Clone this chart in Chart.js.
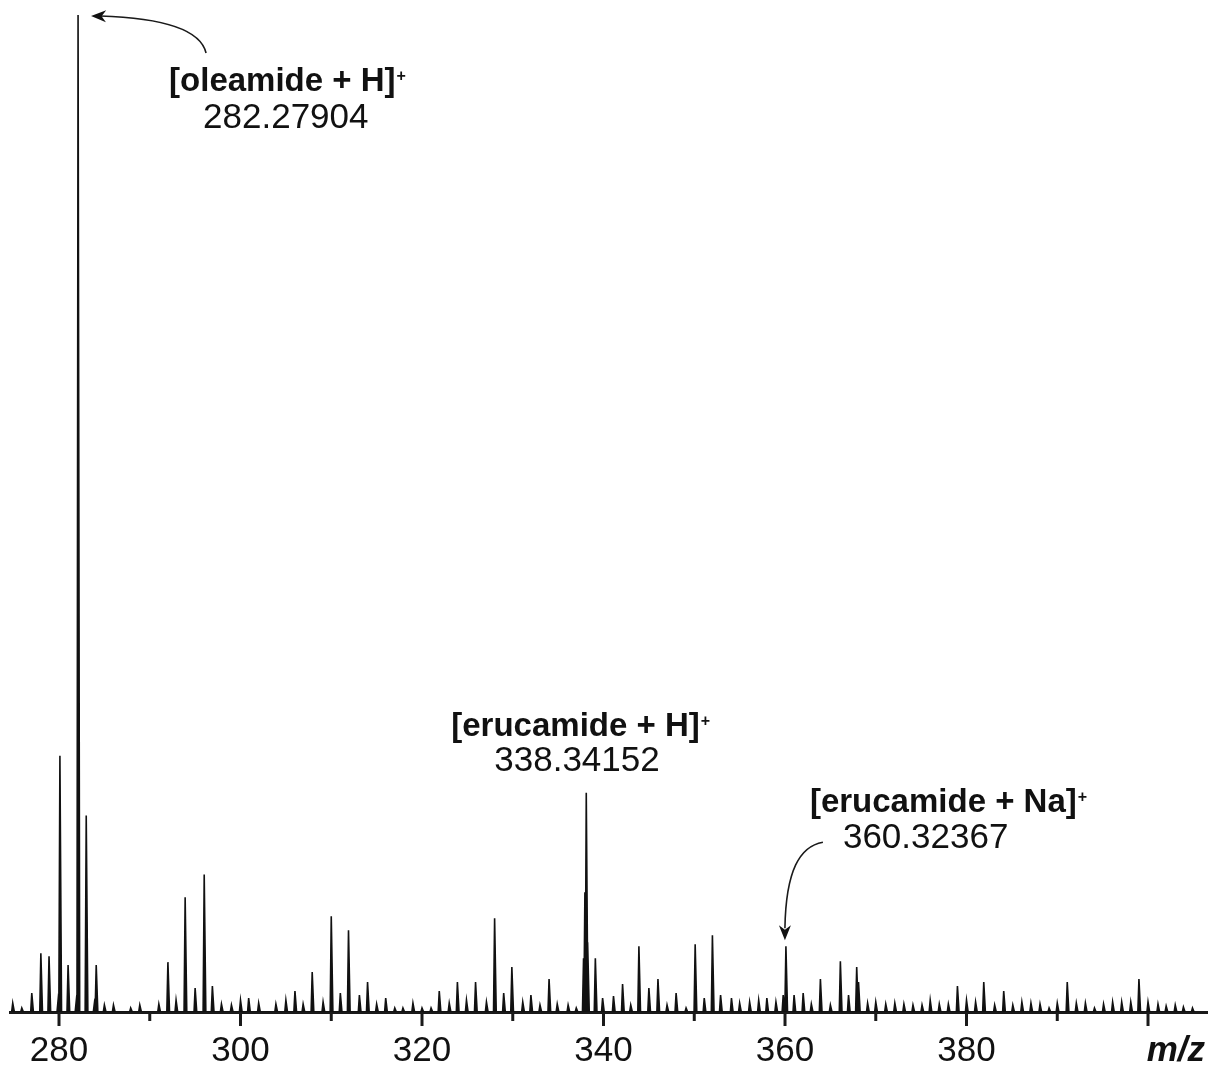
<!DOCTYPE html>
<html>
<head>
<meta charset="utf-8">
<script src="https://cdn.jsdelivr.net/npm/chart.js@4.4.1/dist/chart.umd.min.js"></script>
<style>
  body { margin: 0; background: #fff; }
  #wrap { width: 1214px; height: 1068px; }
</style>
</head>
<body>
<div id="wrap"><canvas id="mycanvas" width="1214" height="1068"></canvas></div>
<script>
// m/z of each peak and its relative intensity (%)
var peakMz = [
  274.9, 275.9, 277.0, 278.0, 278.9, 279.9, 280.1, 281.0, 281.9, 282.1,
  283.0, 283.9, 284.1, 285.0, 286.0, 287.9, 288.9, 291.0, 292.0, 292.9,
  293.9, 295.0, 296.0, 296.9, 297.9, 299.0, 300.0, 300.9, 302.0, 303.9,
  305.0, 306.0, 306.9, 307.9, 309.1, 310.0, 311.0, 311.9, 313.1, 314.0,
  315.0, 316.0, 317.0, 317.9, 319.0, 320.0, 321.0, 321.9, 323.0, 323.9,
  324.9, 325.9, 327.1, 328.0, 329.0, 329.9, 331.1, 332.0, 333.0, 334.0,
  334.9, 336.1, 337.0, 337.8, 337.95, 338.1, 338.25, 339.1, 339.9, 341.1,
  342.1, 343.0, 343.9, 345.0, 346.0, 347.0, 348.0, 349.1, 350.1, 351.1,
  352.0, 352.9, 354.1, 355.0, 356.1, 357.1, 358.0, 359.0, 359.8, 360.1,
  361.0, 362.0, 362.9, 363.9, 365.0, 366.1, 367.0, 367.9, 368.1, 369.1,
  370.0, 371.1, 372.1, 373.1, 374.1, 375.1, 376.0, 377.0, 378.0, 379.0,
  380.0, 381.0, 381.9, 383.1, 384.1, 385.1, 386.1, 387.1, 388.1, 389.1,
  390.0, 391.1, 392.1, 393.1, 394.1, 395.1, 396.1, 397.1, 398.1, 399.0,
  400.0, 401.1, 402.0, 403.0, 403.9, 404.9
];
var peakInt = [
  0.9, 0.4, 1.9, 5.9, 5.6, 1.2, 25.7, 4.7, 1.1, 100,
  19.7, 0.9, 4.7, 0.7, 0.7, 0.4, 0.7, 0.8, 5.0, 1.2,
  11.5, 2.4, 13.8, 2.6, 0.8, 0.7, 1.2, 1.4, 0.9, 0.8,
  1.2, 2.1, 0.8, 4.0, 1.0, 9.6, 1.9, 8.2, 1.7, 3.0,
  0.8, 1.4, 0.4, 0.4, 0.9, 0.4, 0.4, 2.1, 0.9, 3.0,
  1.2, 3.0, 1.0, 9.4, 1.9, 4.5, 1.0, 1.7, 0.7, 3.3,
  0.8, 0.7, 0.4, 5.4, 12.0, 22.0, 7.0, 5.4, 1.4, 1.6,
  2.8, 0.7, 6.6, 2.4, 3.3, 0.7, 1.9, 0.4, 6.8, 1.4,
  7.7, 1.7, 1.4, 0.9, 1.0, 1.2, 1.4, 1.0, 1.7, 6.6,
  1.7, 1.9, 0.8, 3.3, 0.7, 5.1, 1.7, 4.5, 3.0, 0.9,
  1.0, 0.8, 0.9, 0.8, 0.7, 0.7, 1.2, 0.8, 0.8, 2.6,
  1.2, 1.0, 3.0, 0.7, 2.1, 0.7, 1.0, 0.9, 0.8, 0.4,
  0.9, 3.0, 0.9, 0.9, 0.4, 0.8, 1.0, 1.0, 1.0, 3.3,
  1.0, 0.8, 0.6, 0.7, 0.5, 0.4
];

var tickValues = [280, 290, 300, 310, 320, 330, 340, 350, 360, 370, 380, 390, 400];
var tickLabels = ['280', '', '300', '', '320', '', '340', '', '360', '', '380', '', ''];

// labelled peaks
var annMz = [282.1, 338.1, 360.1];
var annInt = [100, 22.0, 6.6];
var annName = ['[oleamide + H]', '[erucamide + H]', '[erucamide + Na]'];
var annValue = ['282.27904', '338.34152', '360.32367'];

var points = [];
for (var i = 0; i < peakMz.length; i++) {
  points.push({x: peakMz[i] - 0.12, y: 0});
  points.push({x: peakMz[i], y: peakInt[i]});
  points.push({x: peakMz[i] + 0.18, y: 0});
}

function arrowHead(ctx, fromX, fromY, tipX, tipY) {
  var a = Math.atan2(tipY - fromY, tipX - fromX);
  var len = 15, half = 6;
  ctx.beginPath();
  ctx.moveTo(tipX, tipY);
  ctx.lineTo(tipX - len * Math.cos(a) + half * Math.sin(a), tipY - len * Math.sin(a) - half * Math.cos(a));
  ctx.lineTo(tipX - 0.7 * len * Math.cos(a), tipY - 0.7 * len * Math.sin(a));
  ctx.lineTo(tipX - len * Math.cos(a) - half * Math.sin(a), tipY - len * Math.sin(a) + half * Math.cos(a));
  ctx.closePath();
  ctx.fill();
}

function nameWithSup(ctx, text, x, y) {
  ctx.font = 'bold 33px "Liberation Sans", Arial, sans-serif';
  ctx.textAlign = 'left';
  ctx.fillText(text, x, y);
  var w = ctx.measureText(text).width;
  ctx.font = 'bold 16px "Liberation Sans", Arial, sans-serif';
  ctx.fillText('+', x + w + 1, y - 10);
}

var decorations = {
  id: 'decorations',
  afterDraw: function(chart) {
    var ctx = chart.ctx;
    var xs = chart.scales.x, ys = chart.scales.y;
    var bottom = chart.chartArea.bottom;
    ctx.save();
    ctx.strokeStyle = '#1a1a1a';
    ctx.fillStyle = '#111';
    ctx.lineWidth = 3;
    for (var i = 0; i < tickValues.length; i++) {
      var px = xs.getPixelForValue(tickValues[i]);
      var len = tickValues[i] % 20 === 0 ? 14 : 9;
      ctx.beginPath();
      ctx.moveTo(px, bottom);
      ctx.lineTo(px, bottom + len);
      ctx.stroke();
    }

    ctx.font = 'italic bold 35px "Liberation Sans", Arial, sans-serif';
    ctx.textAlign = 'right';
    ctx.textBaseline = 'alphabetic';
    ctx.fillText('m/z', chart.chartArea.right - 2, bottom + 49);

    var p, t;
    ctx.lineWidth = 1.6;

    // oleamide
    p = xs.getPixelForValue(annMz[0]); t = ys.getPixelForValue(annInt[0]);
    ctx.beginPath();
    ctx.moveTo(p + 128, t + 38);
    ctx.quadraticCurveTo(p + 120, t + 4, p + 22, t + 1);
    ctx.stroke();
    arrowHead(ctx, p + 60, t + 2, p + 13, t + 1);
    nameWithSup(ctx, annName[0], p + 91, t + 76);
    ctx.font = '35px "Liberation Sans", Arial, sans-serif';
    ctx.fillText(annValue[0], p + 125, t + 113);

    // erucamide + H
    p = xs.getPixelForValue(annMz[1]); t = ys.getPixelForValue(annInt[1]);
    nameWithSup(ctx, annName[1], p - 135, t - 57);
    ctx.font = '35px "Liberation Sans", Arial, sans-serif';
    ctx.fillText(annValue[1], p - 92, t - 22);

    // erucamide + Na
    p = xs.getPixelForValue(annMz[2]); t = ys.getPixelForValue(annInt[2]);
    nameWithSup(ctx, annName[2], p + 24, t - 134);
    ctx.font = '35px "Liberation Sans", Arial, sans-serif';
    ctx.fillText(annValue[2], p + 57, t - 98);
    ctx.beginPath();
    ctx.moveTo(p + 37, t - 104);
    ctx.bezierCurveTo(p + 14, t - 100, p, t - 76, p - 1, t - 18);
    ctx.stroke();
    arrowHead(ctx, p - 1, t - 40, p - 1, t - 6);
    ctx.restore();
  }
};

var ctx = document.getElementById('mycanvas');
var spectrum = new Chart(ctx, {
  type: 'line',
  data: {
    datasets: [{
      label: 'Intensity',
      data: points,
      borderColor: '#111',
      backgroundColor: '#111',
      borderWidth: 1.6,
      fill: 'origin',
      pointRadius: 0,
      tension: 0
    }]
  },
  options: {
    responsive: false,
    animation: false,
    layout: { padding: { left: 10, right: 7, top: 15, bottom: -22 } },
    plugins: { legend: { display: false }, tooltip: { enabled: false } },
    scales: {
      x: {
        type: 'linear',
        min: 274.6,
        max: 406.5,
        afterBuildTicks: function(scale) {
          scale.ticks = tickValues.map(function(v) { return {value: v}; });
        },
        ticks: {
          autoSkip: false,
          maxRotation: 0,
          padding: 18,
          color: '#111',
          font: { family: '"Liberation Sans", Arial, sans-serif', size: 35 },
          callback: function(value, index) { return tickLabels[index]; }
        },
        grid: { display: false, drawTicks: false },
        border: { display: true, width: 3, color: '#1a1a1a' }
      },
      y: {
        display: false,
        min: 0,
        max: 100
      }
    }
  },
  plugins: [decorations]
});
</script>
</body>
</html>
